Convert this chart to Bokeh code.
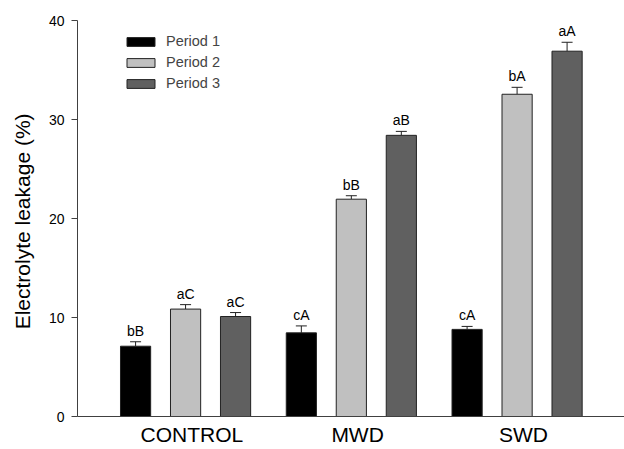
from bokeh.plotting import figure
from bokeh.models import ColumnDataSource, Range1d, Whisker, TeeHead, Legend, LegendItem, FixedTicker
from bokeh.core.properties import value
from bokeh.embed import file_html
from bokeh.resources import INLINE

# ---- data ----
groups = ["CONTROL", "MWD", "SWD"]
periods = ["Period 1", "Period 2", "Period 3"]
p1_vals = [7.1, 8.45, 8.8]
p1_err = [0.45, 0.7, 0.3]
p2_vals = [10.85, 21.95, 32.55]
p2_err = [0.45, 0.35, 0.7]
p3_vals = [10.1, 28.4, 36.9]
p3_err = [0.4, 0.4, 0.9]
p1_letters = ["bB", "cA", "cA"]
p2_letters = ["aC", "bB", "bA"]
p3_letters = ["aC", "aB", "aA"]
y_ticks = [0, 10, 20, 30, 40]

# ---- style ----
FONT = "Liberation Sans"
colors = ["#000000", "#c0c0c0", "#606060"]
offsets = [-0.3016, 0.0, 0.3016]
label_shift = 0.038          # category labels sit slightly right of bar groups
bar_w = 0.182
axis_col = "#404040"
edge_col = "#222222"

positions = list(range(1, len(groups) + 1))   # category tick positions

p = figure(width=624, height=449,
           x_range=Range1d(0.31, 3.61), y_range=Range1d(0, 40),
           output_backend="svg", toolbar_location=None,
           min_border_left=77, min_border_right=0,
           min_border_top=20, min_border_bottom=33)
p.outline_line_color = None
p.xgrid.grid_line_color = None
p.ygrid.grid_line_color = None

series = [(p1_vals, p1_err, p1_letters), (p2_vals, p2_err, p2_letters), (p3_vals, p3_err, p3_letters)]
items = []
for i, (vals, errs, labs) in enumerate(series):
    xs = [pos - label_shift + offsets[i] for pos in positions]
    src = ColumnDataSource(dict(x=xs, v=vals,
                                up=[v + e for v, e in zip(vals, errs)],
                                lab=labs))
    r = p.vbar(x="x", top="v", width=bar_w, source=src,
               fill_color=colors[i], line_color=edge_col, line_width=1)
    w = Whisker(base="x", lower="v", upper="up",
                source=src, lower_head=None,
                upper_head=TeeHead(size=11, line_color=edge_col, line_width=1),
                line_color=edge_col, line_width=1)
    p.add_layout(w)
    p.text(x="x", y="up", text="lab", source=src,
           text_align="center", text_baseline="bottom", y_offset=-3,
           text_font=value(FONT), text_font_size="14px", text_color="#000000")
    items.append(LegendItem(label=periods[i], renderers=[r]))

legend = Legend(items=items, location=(46, 325),
                glyph_width=35, glyph_height=11, label_height=11, spacing=5,
                padding=0, margin=0, border_line_alpha=0, background_fill_alpha=0,
                label_text_font=FONT, label_text_font_size="14.5px", label_standoff=8)
p.add_layout(legend)

# y axis
p.yaxis.ticker = FixedTicker(ticks=y_ticks)
p.yaxis.major_tick_out = 6
p.yaxis.major_tick_in = 0
p.yaxis.minor_tick_line_color = None
p.yaxis.axis_line_color = axis_col
p.yaxis.major_tick_line_color = axis_col
p.yaxis.major_label_text_font = FONT
p.yaxis.major_label_text_font_size = "14px"
p.yaxis.major_label_text_color = "#000000"
p.yaxis.major_label_standoff = 7
p.yaxis.axis_label = "Electrolyte leakage  (%)"
p.yaxis.axis_label_text_font = FONT
p.yaxis.axis_label_text_font_size = "21px"
p.yaxis.axis_label_text_font_style = "normal"
p.yaxis.axis_label_text_color = "#000000"
p.yaxis.axis_label_standoff = 12

# x axis
p.xaxis.ticker = FixedTicker(ticks=positions)
p.xaxis.major_label_overrides = {pos: g for pos, g in zip(positions, groups)}
p.xaxis.major_tick_out = 0
p.xaxis.major_tick_in = 0
p.xaxis.major_tick_line_color = None
p.xaxis.minor_tick_line_color = None
p.xaxis.axis_line_color = axis_col
p.xaxis.major_label_text_font = FONT
p.xaxis.major_label_text_font_size = "21px"
p.xaxis.major_label_text_color = "#000000"
p.xaxis.major_label_standoff = 6

open("out.html", "w").write(file_html(p, INLINE))
